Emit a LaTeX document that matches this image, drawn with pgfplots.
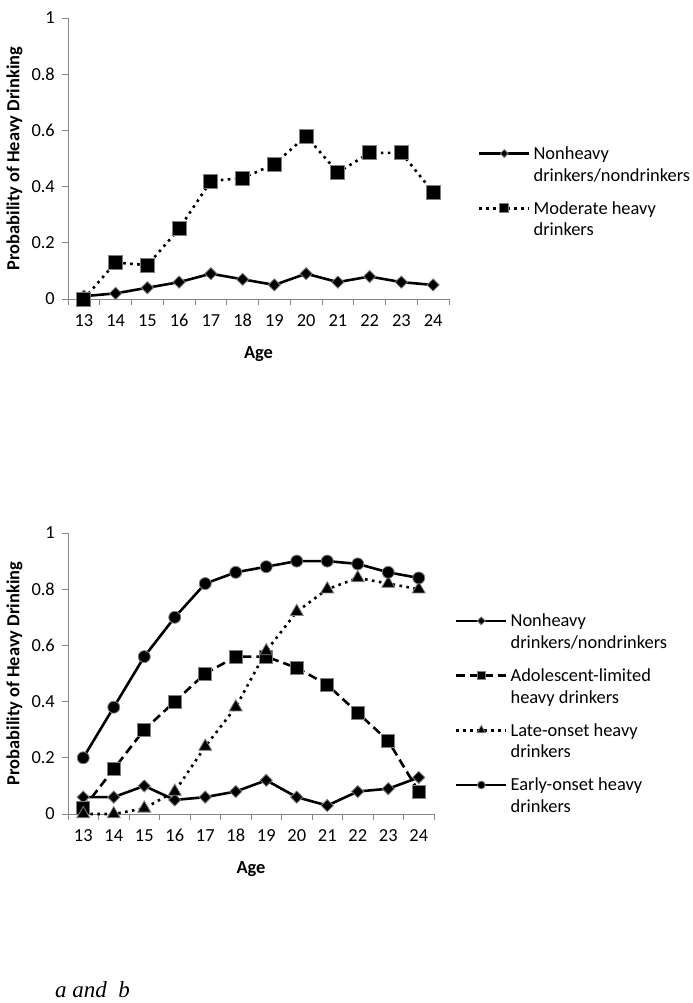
\documentclass[border=0pt]{standalone}
\usepackage{fontspec}
\setmainfont{Carlito}
\newfontfamily\capfont{Liberation Serif}
\usepackage{pgfplots}
\pgfplotsset{compat=1.18}
\definecolor{axgray}{HTML}{868686}
\definecolor{mkgray}{HTML}{808080}

\newcommand{\lbl}{\fontsize{18.4bp}{21.7bp}\selectfont}

\pgfplotsset{
  agechart/.style={
    scale only axis, height=281bp, clip=false,
    xmin=12.5, xmax=24.5, ymin=0, ymax=1,
    axis x line=bottom, axis y line=left,
    axis line style={draw=axgray, line width=0.8bp, -},
    tick align=outside,
    xtick={13,...,24}, minor xtick={12.5,13.5,...,24.5},
    major x tick style={draw=none},
    minor x tick style={draw=axgray, line width=0.8bp},
    y tick style={draw=axgray, line width=0.8bp},
    major tick length=6bp, minor tick length=6bp,
    ytick={0,0.2,0.4,0.6,0.8,1},
    /pgf/number format/assume math mode=true,
    tick label style={font=\lbl},
    yticklabel style={inner sep=0pt, xshift=-7bp},
    xticklabel style={inner sep=0pt, yshift=-9bp},
    label style={font=\lbl\bfseries},
    xlabel={Age},
    ylabel={Probability of Heavy Drinking},
    legend image code/.code={\draw[mark repeat=2,mark phase=2,#1] plot coordinates {(0bp,6bp) (25bp,6bp) (50bp,6bp)};},
    legend image post style={every mark/.append style={scale=0.65}},
    legend style={draw=none, fill=none, inner sep=0pt, outer sep=0pt, anchor=north west,
      row sep=10.7bp, column sep=3bp, font=\lbl, cells={anchor=base west},
      nodes={inner sep=0pt, text height=14bp, text depth=30bp}},
  },
  nonheavy/.style={black, solid, line width=2.6bp, mark=square*, mark size=4.3bp,
    mark options={rotate=45, solid, fill=black, draw=mkgray, line width=0.8bp}},
  moderate/.style={black, line width=2.6bp, dash pattern=on 2.6bp off 4.4bp, mark=square*, mark size=7bp,
    mark options={solid, fill=black, draw=mkgray, line width=0.8bp}},
  adolescent/.style={black, line width=2.6bp, dash pattern=on 9bp off 5bp, mark=square*, mark size=6.5bp,
    mark options={solid, fill=black, draw=mkgray, line width=0.8bp}},
  lateonset/.style={black, line width=2.6bp, dash pattern=on 2.6bp off 4.4bp, mark=triangle*, mark size=7.5bp,
    mark options={solid, fill=black, draw=mkgray, line width=0.8bp}},
  earlyonset/.style={black, solid, line width=2.6bp, mark=*, mark size=6bp,
    mark options={solid, fill=black, draw=mkgray, line width=0.8bp}},
}

\newcommand{\entry}[2]{\parbox[t]{180bp}{\raggedright #1\\#2}}

\begin{document}
\begin{tikzpicture}
\useasboundingbox (0,0) rectangle (693bp,1003bp);

% panel a
\begin{axis}[agechart, width=381bp, at={(68bp,704bp)}, anchor=south west,
  xlabel style={at={(rel axis cs:0.5,-0.211)}, anchor=base},
  ylabel style={at={(rel axis cs:-0.1404,0.5)}, anchor=center},
  legend style={at={(rel axis cs:1.0761,0.546)}}]
\addplot[nonheavy] coordinates {(13,0.01) (14,0.02) (15,0.04) (16,0.06) (17,0.09) (18,0.07) (19,0.05) (20,0.09) (21,0.06) (22,0.08) (23,0.06) (24,0.05)};
\addlegendentry{\entry{Nonheavy}{drinkers/nondrinkers}}
\addplot[moderate] coordinates {(13,0.00) (14,0.13) (15,0.12) (16,0.25) (17,0.42) (18,0.43) (19,0.48) (20,0.58) (21,0.45) (22,0.52) (23,0.52) (24,0.38)};
\addlegendentry{\entry{Moderate heavy}{drinkers}}
\end{axis}

% panel b
\begin{axis}[agechart, width=366bp, at={(68bp,189bp)}, anchor=south west,
  xlabel style={at={(rel axis cs:0.5,-0.211)}, anchor=base},
  ylabel style={at={(rel axis cs:-0.1462,0.5)}, anchor=center},
  legend style={at={(rel axis cs:1.0574,0.7157)}}]
\addplot[nonheavy] coordinates {(13,0.06) (14,0.06) (15,0.10) (16,0.05) (17,0.06) (18,0.08) (19,0.12) (20,0.06) (21,0.03) (22,0.08) (23,0.09) (24,0.13)};
\addlegendentry{\entry{Nonheavy}{drinkers/nondrinkers}}
\addplot[adolescent] coordinates {(13,0.02) (14,0.16) (15,0.30) (16,0.40) (17,0.50) (18,0.56) (19,0.56) (20,0.52) (21,0.46) (22,0.36) (23,0.26) (24,0.08)};
\addlegendentry{\entry{Adolescent-limited}{heavy drinkers}}
\addplot[lateonset] coordinates {(13,0.00) (14,0.00) (15,0.02) (16,0.08) (17,0.24) (18,0.38) (19,0.58) (20,0.72) (21,0.80) (22,0.84) (23,0.82) (24,0.80)};
\addlegendentry{\entry{Late-onset heavy}{drinkers}}
\addplot[earlyonset] coordinates {(13,0.20) (14,0.38) (15,0.56) (16,0.70) (17,0.82) (18,0.86) (19,0.88) (20,0.90) (21,0.90) (22,0.89) (23,0.86) (24,0.84)};
\addlegendentry{\entry{Early-onset heavy}{drinkers}}
\end{axis}

\node[anchor=base west, inner sep=0pt, font=\capfont\itshape\fontsize{23bp}{27bp}\selectfont] at (55bp,6bp) {a and\ \ b};
\end{tikzpicture}
\end{document}
